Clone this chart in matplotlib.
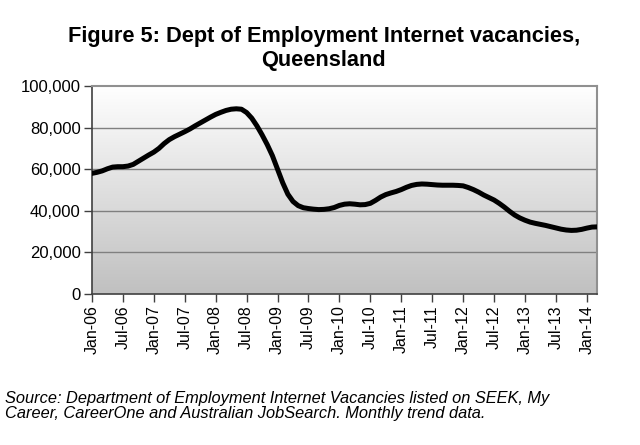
import matplotlib.pyplot as plt
import numpy as np

plt.rcParams["font.family"] = ["Liberation Sans", "DejaVu Sans"]

# monthly trend, Jan-06 .. Mar-14 (thousands of vacancies)
vacancies_k = [
    58.0, 58.5, 59.2, 60.2, 61.0, 61.2, 61.2, 61.5, 62.3, 63.8, 65.3, 66.8,   # 2006
    68.2, 70.0, 72.3, 74.2, 75.6, 76.8, 78.0, 79.3, 80.8, 82.2, 83.6, 85.0,   # 2007
    86.3, 87.3, 88.2, 88.8, 89.0, 88.8, 87.2, 84.5, 80.8, 76.5, 71.8, 66.5,   # 2008
    60.0, 53.5, 48.0, 44.5, 42.5, 41.5, 41.1, 40.8, 40.6, 40.7, 41.0, 41.6,   # 2009
    42.6, 43.2, 43.4, 43.2, 42.9, 43.0, 43.6, 45.0, 46.6, 47.8, 48.6, 49.3,   # 2010
    50.2, 51.3, 52.2, 52.7, 52.9, 52.8, 52.6, 52.4, 52.3, 52.3, 52.3, 52.2,   # 2011
    52.0, 51.2, 50.2, 49.0, 47.6, 46.4, 45.2, 43.6, 41.8, 39.8, 38.0, 36.6,   # 2012
    35.5, 34.6, 34.0, 33.5, 33.0, 32.4, 31.8, 31.2, 30.8, 30.6, 30.7, 31.1,   # 2013
    31.7, 32.2, 32.3,                                                         # 2014
]
tick_labels = ["Jan-06", "Jul-06", "Jan-07", "Jul-07", "Jan-08", "Jul-08",
               "Jan-09", "Jul-09", "Jan-10", "Jul-10", "Jan-11", "Jul-11",
               "Jan-12", "Jul-12", "Jan-13", "Jul-13", "Jan-14"]
y_ticks = [0, 20000, 40000, 60000, 80000, 100000]

values = np.array(vacancies_k) * 1000
months = np.arange(len(values))

fig = plt.figure(figsize=(6.4, 4.45), dpi=100)
ax = fig.add_axes([0.1437, 0.339, 0.7893, 0.468])

# white-to-grey gradient fill like the original spreadsheet chart
grad = np.linspace(0, 1, 256).reshape(-1, 1)
ax.imshow(grad, extent=[0, 1, 0, 1], transform=ax.transAxes, aspect="auto",
          cmap=plt.matplotlib.colors.LinearSegmentedColormap.from_list(
              "g", ["#c0c0c0", "#ffffff"]), origin="lower", zorder=0)

for yt in y_ticks[1:-1]:
    ax.axhline(yt, color="#808080", lw=1.0, zorder=1)

ax.plot(months, values, color="black", lw=3.6, solid_capstyle="round", zorder=3)

ax.set_xlim(0, len(values) - 1)
ax.set_ylim(0, 100000)
ax.set_yticks(y_ticks)
ax.set_yticklabels([f"{v:,}" for v in y_ticks], fontsize=12)
ax.set_xticks(np.arange(0, len(values), 6))
ax.set_xticklabels(tick_labels, rotation=90, fontsize=11.5)
ax.tick_params(direction="out", length=6, width=1, color="#404040", pad=2)

for side in ["top", "right"]:
    ax.spines[side].set_color("#909090")
    ax.spines[side].set_linewidth(1.5)
for side in ["left", "bottom"]:
    ax.spines[side].set_color("#404040")
    ax.spines[side].set_linewidth(1.2)

fig.text(0.506, 0.918, "Figure 5: Dept of Employment Internet vacancies,",
         ha="center", va="center", fontsize=15.7, fontweight="bold")
fig.text(0.506, 0.864, "Queensland", ha="center", va="center",
         fontsize=15.7, fontweight="bold")

fig.text(0.008, 0.088,
         "Source: Department of Employment Internet Vacancies listed on SEEK, My\n"
         "Career, CareerOne and Australian JobSearch. Monthly trend data.",
         ha="left", va="center", fontsize=11.8, style="italic", linespacing=1.0)

fig.savefig("out.png", dpi=100)
